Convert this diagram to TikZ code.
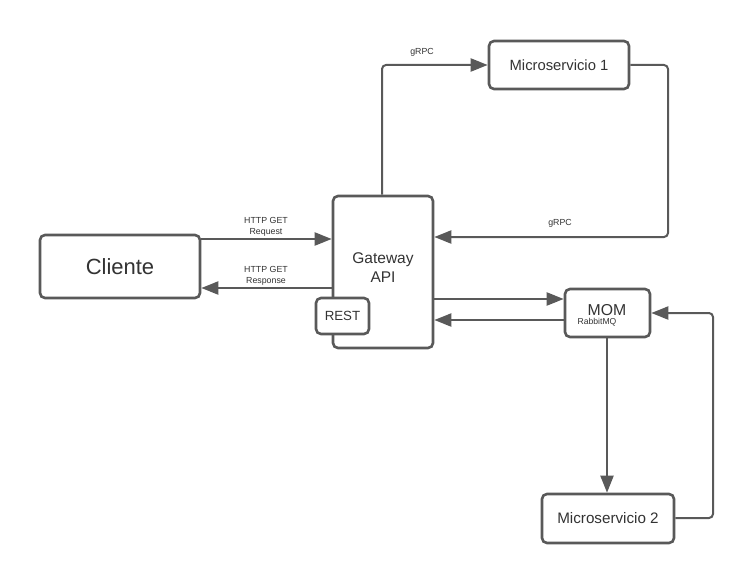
\documentclass[tikz,border=0pt]{standalone}
\usepackage{fontspec}
\setmainfont{Liberation Sans}
\usetikzlibrary{arrows.meta}
\definecolor{edge}{HTML}{595959}
\definecolor{ink}{HTML}{333333}
\tikzset{
  box/.style={draw=edge, line width=2.6pt, rounded corners=5pt, fill=white,
              inner sep=0pt, text=ink},
  conn/.style={draw=edge, line width=2pt, rounded corners=4pt,
               -{Triangle[length=17pt,width=13pt]}},
  small/.style={text=ink, font=\fontsize{8.8}{11}\selectfont, align=center, inner sep=0pt},
}
\begin{document}
\begin{tikzpicture}[x=1pt,y=-1pt]
\useasboundingbox[fill=white] (0,0) rectangle (754,583);

% services
\node[box, minimum width=160pt, minimum height=63pt, font=\fontsize{22}{26}\selectfont] (cliente) at (120,266.5) {Cliente};
\node[box, minimum width=100pt, minimum height=152pt] (gateway) at (383,272) {};
\node[text=ink, font=\fontsize{15.5}{19}\selectfont, align=center, inner sep=0pt] (gwtext) at (383,268) {Gateway\\API};
\node[box, minimum width=53pt, minimum height=36pt, font=\fontsize{13.3}{16}\selectfont] (rest) at (342.5,316) {REST};
\node[box, minimum width=140pt, minimum height=48pt, font=\fontsize{14.8}{18}\selectfont] (m1) at (559,65) {Microservicio 1};
\node[box, minimum width=85pt, minimum height=48pt] (mom) at (607.5,313) {};
\node[text=ink, font=\fontsize{15.8}{18}\selectfont, inner sep=0pt] (momtext) at (607,310) {MOM};
\node[text=ink, font=\fontsize{8.6}{10}\selectfont, inner sep=0pt] (rabbit) at (597,322.5) {RabbitMQ};
\node[box, minimum width=132pt, minimum height=49pt, font=\fontsize{15.2}{18}\selectfont] (m2) at (608,518.5) {Microservicio 2};

% connectors
\draw[conn] (cliente.east |- 0,239) -- (gateway.west |- 0,239);
\draw[conn] (gateway.west |- 0,288) -- (cliente.east |- 0,288);
\draw[conn] (gateway.north -| 382,0) |- (m1.west);
\coordinate (m1turn) at (668,65);
\draw[conn] (m1.east) -- (m1turn) |- (gateway.east |- 0,237);
\draw[conn] (gateway.east |- 0,299) -- (mom.west |- 0,299);
\draw[conn] (mom.west |- 0,320) -- (gateway.east |- 0,320);
\draw[conn] (mom.south -| 607,0) -- (m2.north -| 607,0);
\coordinate (m2turn) at (713,518);
\draw[conn] (m2.east |- 0,518) -- (m2turn) |- (mom.east);

% connector labels
\node[small] (lreq) at (266,226.5) {HTTP GET\\Request};
\node[small] (lresp) at (266,275.5) {HTTP GET\\Response};
\node[small] (lg1) at (422,52) {gRPC};
\node[small] (lg2) at (560,223) {gRPC};
\end{tikzpicture}
\end{document}
